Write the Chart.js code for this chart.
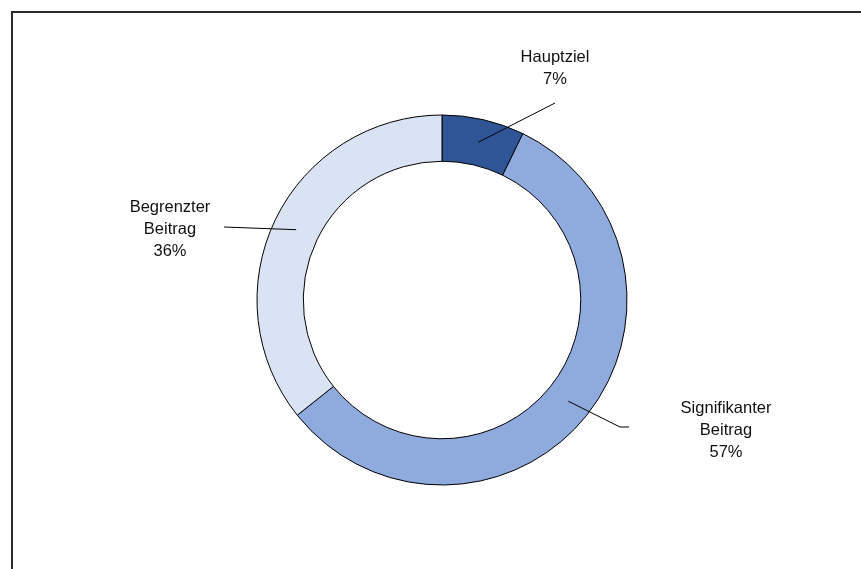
<!DOCTYPE html>
<html>
<head>
<meta charset="utf-8">
<script src="https://cdn.jsdelivr.net/npm/chart.js@4"></script>
<style>
    html, body { margin: 0; padding: 0; background: #fff; overflow: hidden; }
    #wrap { position: relative; width: 861px; height: 569px; }
    #frame { position: absolute; left: 11px; top: 11px; width: 900px; height: 600px;
             border-left: 2px solid #2b2b2b; border-top: 2px solid #2b2b2b; }
    canvas { position: absolute; left: 0; top: 0; }
</style>
</head>
<body>
<div id="wrap">
    <div id="frame"></div>
    <canvas id="chart" width="861" height="569"></canvas>
</div>
<script>
// Données du graphique
const categories = ['Hauptziel', 'Signifikanter Beitrag', 'Begrenzter Beitrag'];
const shares = [7.2, 57.1, 35.7];
const labelLines = [['Hauptziel'], ['Signifikanter', 'Beitrag'], ['Begrenzter', 'Beitrag']];
const sliceColors = ['#2F5597', '#8FAADC', '#DAE3F3'];

// Position des étiquettes (décalage par rapport au centre) et des lignes de rappel
const labelPos = [
    { tx: 113, ty: -238, path: [[113, -197]] },
    { tx: 284, ty: 113, path: [[178, 127], [187, 127]] },
    { tx: -272, ty: -88, path: [[-218, -73]] }
];

const calloutPlugin = {
    id: 'callouts',
    afterDatasetsDraw(chart) {
        const ctx = chart.ctx;
        const arcs = chart.getDatasetMeta(0).data;
        ctx.save();
        arcs.forEach((arc, i) => {
            const p = arc.getProps(['x', 'y', 'startAngle', 'endAngle', 'innerRadius', 'outerRadius'], true);
            const mid = (p.startAngle + p.endAngle) / 2;
            const r = (p.innerRadius + p.outerRadius) / 2;
            const pos = labelPos[i];
            // ligne de rappel
            ctx.strokeStyle = '#000';
            ctx.lineWidth = 1;
            ctx.beginPath();
            ctx.moveTo(p.x + Math.cos(mid) * r, p.y + Math.sin(mid) * r);
            pos.path.forEach(pt => ctx.lineTo(p.x + pt[0], p.y + pt[1]));
            ctx.stroke();
            // texte
            ctx.fillStyle = '#111';
            ctx.font = '16.5px "Liberation Sans", Arial, sans-serif';
            ctx.textAlign = 'center';
            ctx.textBaseline = 'alphabetic';
            const lines = labelLines[i].concat([Math.round(shares[i]) + '%']);
            lines.forEach((t, k) => ctx.fillText(t, p.x + pos.tx, p.y + pos.ty + k * 22));
        });
        ctx.restore();
    }
};

new Chart(document.getElementById('chart'), {
    type: 'doughnut',
    data: {
        labels: categories,
        datasets: [{
            data: shares,
            backgroundColor: sliceColors,
            borderColor: '#000',
            borderWidth: 1
        }]
    },
    options: {
        responsive: false,
        animation: false,
        radius: 185,
        cutout: '75%',
        layout: { padding: { left: 24, right: 1, top: 31, bottom: 0 } },
        plugins: {
            legend: { display: false },
            tooltip: { enabled: false }
        }
    },
    plugins: [calloutPlugin]
});
</script>
</body>
</html>
